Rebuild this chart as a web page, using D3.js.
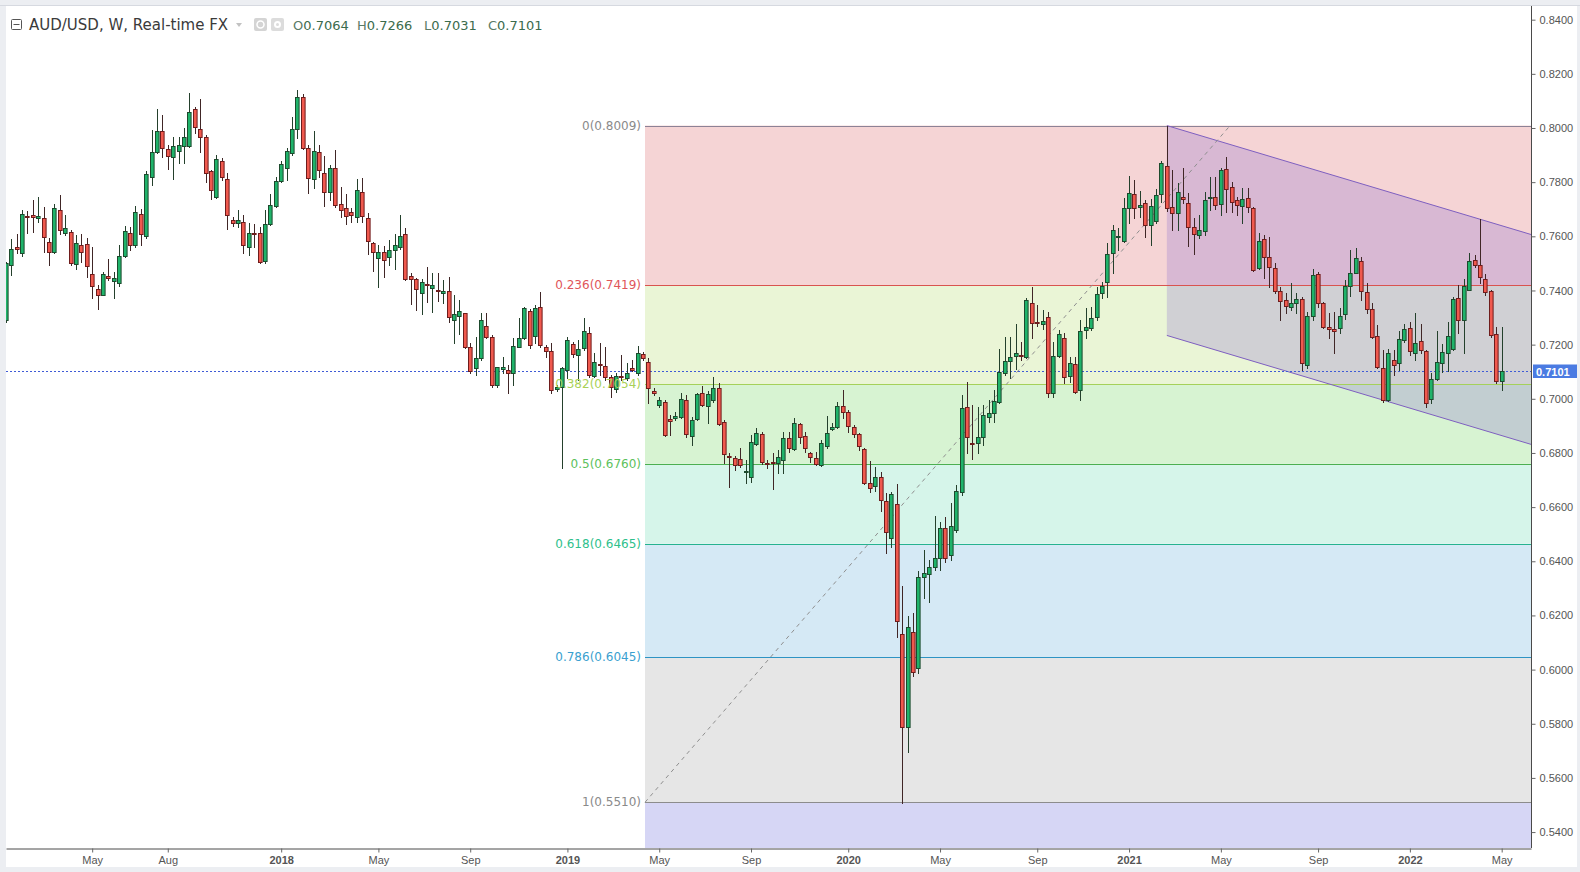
<!DOCTYPE html>
<html><head><meta charset="utf-8">
<script src="https://cdn.jsdelivr.net/npm/d3@7"></script>
<style>html,body{margin:0;padding:0;background:#fff;overflow:hidden}</style>
</head><body>
<svg id="chart" width="1580" height="872"></svg>
<script>
// ---------------- DATA ----------------
const firstWeek = "2017-01-09"; // Monday of first weekly bar
const openV = [
.7291,.7494,.7559,.7537,.7676,.7677,.7667,.7666,.7580,.7543,
.7699,.7614,.7617,.7496,.7568,.7570,.7459,.7404,.7385,.7453,
.7435,.7426,.7527,.7611,.7568,.7681,.7602,.7820,.7912,.7989,
.7921,.7894,.7915,.7933,.7933,.8069,.7996,.7965,.7841,.7744,
.7877,.7810,.7662,.7648,.7654,.7562,.7614,.7613,.7509,.7645,
.7713,.7804,.7851,.7906,.7995,.8113,.7927,.7810,.7912,.7832,
.7765,.7851,.7718,.7703,.7688,.7672,.7765,.7666,.7574,.7521,
.7541,.7522,.7549,.7562,.7607,.7454,.7441,.7389,.7424,.7408,
.7401,.7389,.7399,.7291,.7307,.7315,.7192,.7112,.7149,.7270,
.7227,.7051,.7109,.7106,.7094,.7192,.7223,.7325,.7232,.7340,
.7190,.7177,.7035,.7042,.7106,.7201,.7162,.7187,.7242,.7084,
.7127,.7121,.7079,.7035,.7084,.7076,.7113,.7094,.7165,.7137,
.7030,.6977,.6989,.6924,.6928,.6932,.6996,.6863,.6924,.7020,
.6975,.6996,.7039,.6913,.6790,.6781,.6779,.6731,.6713,.6833,
.6870,.6764,.6766,.6764,.6774,.6854,.6813,.6906,.6864,.6799,
.6783,.6756,.6827,.6887,.6895,.6975,.6950,.6895,.6870,.6813,
.6688,.6678,.6710,.6624,.6485,.6610,.6130,.5789,.6140,.6005,
.6341,.6353,.6380,.6413,.6524,.6423,.6515,.6657,.6968,.6836,
.6838,.6860,.6931,.6949,.6989,.7097,.7141,.7159,.7162,.7153,
.7355,.7285,.7276,.7303,.7023,.7158,.7223,.7085,.7127,.7033,
.7254,.7260,.7303,.7389,.7433,.7537,.7596,.7584,.7703,.7756,
.7707,.7722,.7642,.7657,.7756,.7861,.7710,.7687,.7746,.7724,
.7636,.7605,.7620,.7740,.7744,.7718,.7847,.7783,.7734,.7712,
.7740,.7703,.7482,.7589,.7522,.7482,.7399,.7365,.7340,.7355,
.7367,.7125,.7306,.7461,.7355,.7266,.7259,.7260,.7312,.7418,
.7466,.7509,.7395,.7330,.7233,.7112,.6995,.7143,.7134,.7217,
.7260,.7168,.7213,.7176,.6998,.7072,.7131,.7168,.7183,.7371,
.7291,.7402,.7513,.7494,.7441,.7399,.7240,.7064];
const highV = [
.7505,.7589,.7608,.7697,.7694,.7734,.7746,.7709,.7592,.7721,
.7752,.7678,.7623,.7605,.7608,.7592,.7562,.7420,.7469,.7518,
.7469,.7568,.7639,.7635,.7713,.7701,.7842,.7992,.8069,.8048,
.7937,.7968,.7968,.7999,.8128,.8076,.8106,.7974,.7845,.7900,
.7889,.7835,.7672,.7699,.7678,.7648,.7645,.7635,.7699,.7758,
.7820,.7878,.7925,.8042,.8140,.8125,.7937,.7990,.7939,.7896,
.7863,.7919,.7783,.7758,.7703,.7810,.7814,.7685,.7580,.7568,
.7565,.7586,.7608,.7678,.7629,.7463,.7445,.7441,.7488,.7465,
.7463,.7439,.7451,.7383,.7365,.7318,.7205,.7229,.7315,.7315,
.7235,.7118,.7155,.7124,.7223,.7297,.7340,.7332,.7346,.7393,
.7199,.7205,.7050,.7119,.7229,.7211,.7217,.7297,.7266,.7168,
.7205,.7193,.7088,.7094,.7162,.7131,.7143,.7195,.7174,.7149,
.7039,.7008,.6996,.6940,.6953,.7020,.7014,.6934,.7023,.7047,
.7027,.7082,.7057,.6922,.6798,.6789,.6817,.6774,.6866,.6891,
.6879,.6774,.6799,.6811,.6879,.6879,.6928,.6912,.6879,.6805,
.6805,.6848,.6937,.6909,.6989,.7033,.6959,.6903,.6873,.6817,
.6770,.6747,.6731,.6651,.6655,.6684,.6309,.6198,.6210,.6364,
.6442,.6405,.6567,.6546,.6562,.6614,.6682,.7014,.7063,.6977,
.6971,.6977,.6995,.7032,.7183,.7227,.7229,.7276,.7211,.7371,
.7412,.7346,.7328,.7322,.7211,.7254,.7242,.7156,.7153,.7291,
.7334,.7340,.7414,.7430,.7574,.7642,.7629,.7740,.7823,.7808,
.7769,.7734,.7737,.7775,.7879,.8007,.7845,.7796,.7851,.7759,
.7666,.7679,.7765,.7820,.7818,.7851,.7892,.7802,.7746,.7777,
.7777,.7707,.7611,.7605,.7599,.7500,.7414,.7389,.7426,.7389,
.7377,.7322,.7478,.7469,.7359,.7316,.7322,.7334,.7439,.7550,
.7556,.7525,.7426,.7352,.7272,.7180,.7183,.7180,.7252,.7276,
.7285,.7316,.7276,.7180,.7094,.7252,.7202,.7285,.7377,.7420,
.7441,.7537,.7531,.7663,.7461,.7402,.7264,.7266];
const lowV = [
.7285,.7457,.7537,.7527,.7613,.7617,.7654,.7543,.7494,.7537,
.7608,.7605,.7494,.7479,.7506,.7451,.7371,.7330,.7383,.7439,
.7374,.7416,.7525,.7549,.7562,.7568,.7592,.7789,.7906,.7894,
.7847,.7810,.7869,.7872,.7931,.7980,.7912,.7802,.7737,.7740,
.7808,.7626,.7639,.7635,.7537,.7531,.7562,.7503,.7503,.7642,
.7707,.7802,.7808,.7900,.7962,.7922,.7761,.7777,.7820,.7713,
.7734,.7709,.7672,.7644,.7654,.7654,.7654,.7533,.7473,.7414,
.7451,.7494,.7478,.7555,.7438,.7350,.7328,.7313,.7358,.7322,
.7361,.7352,.7285,.7205,.7241,.7186,.7094,.7088,.7143,.7223,
.7045,.7045,.7094,.7020,.7051,.7192,.7219,.7186,.7205,.7193,
.7156,.7020,.7027,.6743,.7076,.7156,.7070,.7180,.7082,.7082,
.7088,.7070,.7008,.7026,.7070,.7070,.7101,.7088,.7143,.6983,
.7014,.6971,.6862,.6866,.6922,.6928,.6860,.6829,.6922,.6975,
.6909,.6990,.6903,.6762,.6676,.6737,.6749,.6690,.6694,.6829,
.6759,.6743,.6666,.6725,.6725,.6805,.6811,.6835,.6805,.6768,
.6756,.6752,.6817,.6885,.6891,.6928,.6879,.6860,.6811,.6685,
.6657,.6658,.6586,.6432,.6454,.6119,.5506,.5697,.5978,.5986,
.6263,.6251,.6368,.6368,.6399,.6405,.6509,.6645,.6799,.6776,
.6801,.6829,.6916,.6916,.6986,.7088,.7076,.7109,.7143,.7149,
.7223,.7269,.7257,.7005,.7005,.7153,.7057,.7063,.7020,.6996,
.7223,.7255,.7291,.7371,.7377,.7463,.7550,.7580,.7648,.7666,
.7670,.7596,.7568,.7648,.7728,.7695,.7623,.7623,.7722,.7566,
.7534,.7593,.7605,.7697,.7700,.7679,.7691,.7691,.7679,.7648,
.7691,.7473,.7478,.7445,.7414,.7389,.7291,.7318,.7328,.7318,
.7106,.7112,.7291,.7340,.7260,.7223,.7170,.7242,.7294,.7380,
.7463,.7365,.7315,.7224,.7112,.6989,.6993,.7088,.7106,.7211,
.7162,.7143,.7168,.6971,.6983,.7070,.7100,.7104,.7180,.7244,
.7168,.7400,.7488,.7426,.7383,.7230,.7057,.7031];
const closeV = [
.7500,.7555,.7552,.7681,.7672,.7670,.7675,.7596,.7541,.7703,
.7623,.7629,.7500,.7576,.7541,.7490,.7417,.7385,.7459,.7445,
.7445,.7528,.7621,.7568,.7691,.7608,.7830,.7912,.7989,.7925,
.7896,.7933,.7936,.7968,.8060,.8002,.7968,.7832,.7771,.7887,
.7818,.7678,.7651,.7662,.7568,.7614,.7611,.7504,.7645,.7715,
.7804,.7867,.7915,.7995,.8113,.7925,.7814,.7915,.7845,.7762,
.7851,.7715,.7699,.7676,.7678,.7771,.7675,.7582,.7541,.7541,
.7512,.7549,.7568,.7601,.7441,.7442,.7404,.7432,.7421,.7422,
.7399,.7399,.7303,.7312,.7324,.7192,.7104,.7149,.7291,.7229,
.7051,.7116,.7118,.7094,.7196,.7223,.7334,.7199,.7334,.7199,
.7177,.7033,.7045,.7113,.7217,.7164,.7183,.7250,.7088,.7137,
.7124,.7079,.7045,.7084,.7079,.7094,.7107,.7170,.7149,.7039,
.7020,.6996,.6866,.6919,.6938,.6998,.6870,.6922,.7018,.6977,
.7018,.7041,.6907,.6795,.6784,.6756,.6756,.6734,.6842,.6875,
.6765,.6759,.6762,.6784,.6854,.6820,.6909,.6858,.6817,.6784,
.6759,.6836,.6873,.6897,.6975,.6950,.6900,.6870,.6826,.6690,
.6669,.6710,.6626,.6507,.6647,.6180,.5789,.6158,.5990,.6343,
.6358,.6380,.6413,.6524,.6411,.6532,.6661,.6965,.6860,.6832,
.6860,.6940,.6946,.6993,.7100,.7140,.7153,.7168,.7158,.7365,
.7279,.7279,.7287,.7023,.7159,.7239,.7079,.7133,.7026,.7252,
.7266,.7300,.7387,.7418,.7533,.7623,.7601,.7703,.7759,.7703,
.7716,.7642,.7712,.7753,.7869,.7703,.7685,.7765,.7739,.7636,
.7607,.7623,.7734,.7744,.7716,.7845,.7774,.7728,.7716,.7738,
.7707,.7476,.7584,.7522,.7485,.7399,.7362,.7343,.7352,.7367,
.7131,.7306,.7457,.7355,.7266,.7256,.7252,.7306,.7418,.7463,
.7519,.7399,.7330,.7229,.7119,.6995,.7168,.7125,.7220,.7256,
.7176,.7205,.7180,.6983,.7072,.7135,.7172,.7232,.7367,.7291,
.7417,.7510,.7494,.7451,.7396,.7236,.7064,.7101];

const yTicks = [0.54,0.56,0.58,0.60,0.62,0.64,0.66,0.68,0.70,0.72,0.74,0.76,0.78,0.80,0.82,0.84];
const xTickDates = ["2017-05-01","2017-08-07","2018-01-01","2018-05-07","2018-09-03","2019-01-07","2019-05-06","2019-09-02","2020-01-06","2020-05-04","2020-09-07","2021-01-04","2021-05-03","2021-09-06","2022-01-03","2022-05-02"];
const xTickLabels = ["May","Aug","2018","May","Sep","2019","May","Sep","2020","May","Sep","2021","May","Sep","2022","May"];

const fibLevels = [0, 0.236, 0.382, 0.5, 0.618, 0.786, 1];
const fibHigh = 0.8009, fibLow = 0.5510;
const fibStart = "2019-04-17T14:00:00Z", fibEnd = "2021-05-15T00:00:00Z";
const fibLineColors = ["#8c8296","#d9534f","#a5d15a","#4caf50","#26b38f","#2e94c4","#8c8c8c"];
const fibLabelColors = ["#8a8a8a","#e0555a","#a9d157","#5cc15c","#2fbf8c","#3a9fcf","#8a8a8a"];
const fibBandColors = ["#f5d4d5","#eaf5d6","#d7f3d2","#d6f5ea","#d5e9f5","#e6e6e6","#d6d6f5"];

const channelA = {date:"2021-02-22", price:0.8009};
const channelB = {date:"2022-04-04", price:0.7663};
const channelWidth = 0.0775;

const lastPrice = 0.7101;
const header = {title:"AUD/USD, W, Real-time FX", o:"0.7064", h:"0.7266", l:"0.7031", c:"0.7101"};

// ---------------- SCALES ----------------
const W = 1580, H = 872;
const plotL = 6, plotR = 1531, plotT = 6, plotB = 848;
const svg = d3.select("#chart");
const x = d3.scaleUtc()
  .domain([new Date(Date.UTC(2017,0,9,7,12)), new Date(Date.UTC(2022,5,9))])
  .range([plotL, plotR]);
const y = d3.scaleLinear().domain([0.53412, 0.84505]).range([plotB, plotT]);

const start = new Date(firstWeek + "T00:00:00Z");
const candles = openV.map((o,i)=>({
  date: d3.utcMonday.offset(start, i), o, h: highV[i], l: lowV[i], c: closeV[i]
}));

// ---------------- FRAME ----------------
svg.append("rect").attr("width",W).attr("height",H).attr("fill","#eceef2");
svg.append("rect").attr("x",6).attr("y",6).attr("width",1571).attr("height",861).attr("fill","#ffffff");
svg.append("line").attr("x1",0).attr("x2",W).attr("y1",5.5).attr("y2",5.5).attr("stroke","#d6d9e0");

const defs = svg.append("defs");
defs.append("clipPath").attr("id","plotClip").append("rect")
  .attr("x",plotL).attr("y",plotT).attr("width",plotR-plotL).attr("height",plotB-plotT);

const plot = svg.append("g").attr("clip-path","url(#plotClip)");

// ---------------- FIB RETRACEMENT ----------------
const fx1 = x(new Date(fibStart)), fx2 = plotR;
const fibPrice = l => fibHigh - l*(fibHigh - fibLow);
const bands = fibLevels.map((l,i)=>({
  top: fibPrice(l),
  bottom: i < fibLevels.length-1 ? fibPrice(fibLevels[i+1]) : null,
  color: fibBandColors[i]
}));
plot.selectAll("rect.band").data(bands).join("rect").attr("class","band")
  .attr("x",fx1).attr("width",fx2-fx1)
  .attr("y",d=>y(d.top))
  .attr("height",d=>(d.bottom===null? plotB : y(d.bottom)) - y(d.top))
  .attr("fill",d=>d.color);

// ---------------- CHANNEL ----------------
const tA = new Date(channelA.date+"T00:00:00Z"), tB = new Date(channelB.date+"T00:00:00Z");
const slope = (channelB.price - channelA.price)/(tB - tA);
const tEnd = x.invert(plotR);
const upEnd = channelA.price + slope*(tEnd - tA);
const chPts = [[x(tA), y(channelA.price)],[plotR, y(upEnd)],[plotR, y(upEnd-channelWidth)],[x(tA), y(channelA.price-channelWidth)]];
plot.append("path").attr("d", d3.line()(chPts)+"Z").attr("fill","rgba(140,110,210,0.28)").attr("stroke","none");

// fib lines
plot.selectAll("line.fib").data(fibLevels).join("line").attr("class","fib")
  .attr("x1",fx1).attr("x2",fx2)
  .attr("y1",d=>Math.round(y(fibPrice(d)))+0.5).attr("y2",d=>Math.round(y(fibPrice(d)))+0.5)
  .attr("stroke",(d,i)=>fibLineColors[i]).attr("stroke-width",1);

// channel lines
plot.append("line").attr("x1",chPts[0][0]).attr("y1",chPts[0][1]).attr("x2",chPts[1][0]).attr("y2",chPts[1][1])
  .attr("stroke","#7e5fc0").attr("stroke-width",1);
plot.append("line").attr("x1",chPts[3][0]).attr("y1",chPts[3][1]).attr("x2",chPts[2][0]).attr("y2",chPts[2][1])
  .attr("stroke","#7e5fc0").attr("stroke-width",1);

// fib labels
svg.selectAll("text.fibl").data(fibLevels).join("text").attr("class","fibl")
  .attr("x",fx1-4).attr("y",d=>y(fibPrice(d)))
  .attr("text-anchor","end").attr("dominant-baseline","central")
  .style("font-family","'DejaVu Sans', Verdana, sans-serif").style("font-size","12px")
  .attr("fill",(d,i)=>fibLabelColors[i])
  .text(d=>`${d}(${fibPrice(d).toFixed(4)})`);

// dashed trend line of the fib
plot.append("line")
  .attr("x1",fx1).attr("y1",y(fibLow)).attr("x2",x(new Date(fibEnd))).attr("y2",y(fibHigh))
  .attr("stroke","#8f8f8f").attr("stroke-width",1).attr("stroke-dasharray","4,4");

// ---------------- PRICE LINE ----------------
const yLast = Math.round(y(lastPrice))+0.5;
plot.append("line").attr("x1",plotL).attr("x2",plotR).attr("y1",yLast).attr("y2",yLast)
  .attr("stroke","#3f5bd6").attr("stroke-width",1).attr("stroke-dasharray","2,2");

// ---------------- CANDLES ----------------
const cg = plot.append("g");
const cs = cg.selectAll("g.c").data(candles).join("g").attr("class","c");
cs.append("line")
  .attr("x1",d=>Math.round(x(d.date))+0.5).attr("x2",d=>Math.round(x(d.date))+0.5)
  .attr("y1",d=>Math.round(y(Math.max(d.h,d.o,d.c))))
  .attr("y2",d=>Math.round(y(Math.min(d.l,d.o,d.c)))+1)
  .attr("stroke",d=>d.c>=d.o?"#24402c":"#402626").attr("stroke-width",1);
cs.append("rect")
  .attr("x",d=>Math.round(x(d.date))-1.5)
  .attr("width",3.6)
  .attr("y",d=>Math.round(y(Math.max(d.o,d.c)))+0.5)
  .attr("height",d=>Math.max(1, Math.round(y(Math.min(d.o,d.c))) - Math.round(y(Math.max(d.o,d.c)))))
  .attr("fill",d=>d.c>=d.o?"#1fb36a":"#f0594e")
  .attr("stroke",d=>d.c>=d.o?"#1d4a2d":"#6e1c1c").attr("stroke-width",1);

// ---------------- AXES ----------------
const yAxis = d3.axisRight(y).tickValues(yTicks).tickFormat(d3.format(".4f")).tickSize(4).tickSizeOuter(0).tickPadding(4);
const gy = svg.append("g").attr("transform",`translate(${plotR+0.5},0)`).call(yAxis);
gy.select(".domain").attr("stroke","#4a4a4a").attr("d",`M0,${plotT}V${plotB}`);
gy.selectAll(".tick line").attr("stroke","#666");
gy.selectAll(".tick text").attr("fill","#555").style("font-family","'Liberation Sans', Arial, sans-serif").style("font-size","11px");

const xAxis = d3.axisBottom(x).tickValues(xTickDates.map(s=>new Date(s+"T00:00:00Z")))
  .tickFormat((d,i)=>xTickLabels[i]).tickSize(4).tickSizeOuter(0).tickPadding(4);
const gx = svg.append("g").attr("transform",`translate(0,${plotB+0.5})`).call(xAxis);
gx.select(".domain").attr("stroke","#4a4a4a");
gx.selectAll(".tick line").attr("stroke","#666");
gx.selectAll(".tick text").attr("fill","#555")
  .style("font-family","'Liberation Sans', Arial, sans-serif").style("font-size","11px")
  .style("font-weight",(d,i)=>/^\d{4}$/.test(xTickLabels[i])?"bold":"normal");

// last price label
svg.append("rect").attr("x",plotR+2).attr("y",yLast-7).attr("width",44).attr("height",13.5).attr("fill","#4b7be2");
svg.append("text").attr("x",plotR+5).attr("y",yLast+4).attr("fill","#fff")
  .style("font-family","'Liberation Sans', Arial, sans-serif").style("font-size","11px").style("font-weight","bold")
  .text(lastPrice.toFixed(4));

// ---------------- HEADER ----------------
const hg = svg.append("g");
hg.append("rect").attr("x",11.5).attr("y",19.5).attr("width",10).attr("height",10).attr("fill","none").attr("stroke","#555").attr("rx",1);
hg.append("line").attr("x1",13.5).attr("x2",19.5).attr("y1",24.5).attr("y2",24.5).attr("stroke","#555");
hg.append("text").attr("x",29).attr("y",30).attr("fill","#3a3a3a")
  .style("font-family","'DejaVu Sans', Verdana, sans-serif").style("font-size","15px").text(header.title);
hg.append("path").attr("d","M236,23 L242,23 L239,27 Z").attr("fill","#c2c2c2");
hg.append("rect").attr("x",254).attr("y",18).attr("width",13).attr("height",13).attr("rx",2).attr("fill","#d4d4d4");
hg.append("circle").attr("cx",260.5).attr("cy",24.5).attr("r",3.5).attr("fill","none").attr("stroke","#fff").attr("stroke-width",1.5);
hg.append("rect").attr("x",271).attr("y",18).attr("width",13).attr("height",13).attr("rx",2).attr("fill","#dcdcdc");
hg.append("circle").attr("cx",277.5).attr("cy",24.5).attr("r",3.5).attr("fill","#fff");
hg.append("circle").attr("cx",277.5).attr("cy",24.5).attr("r",1.5).attr("fill","#dcdcdc");
const ohlc = [["O",header.o,293],["H",header.h,357],["L",header.l,424],["C",header.c,488]];
ohlc.forEach(([k,v,px])=>{
  const t = hg.append("text").attr("x",px).attr("y",30)
    .style("font-family","'DejaVu Sans', Verdana, sans-serif").style("font-size","13px");
  t.append("tspan").attr("fill","#5a7a66").text(k);
  t.append("tspan").attr("fill","#3b6b4c").text(v);
});
</script>
</body></html>
